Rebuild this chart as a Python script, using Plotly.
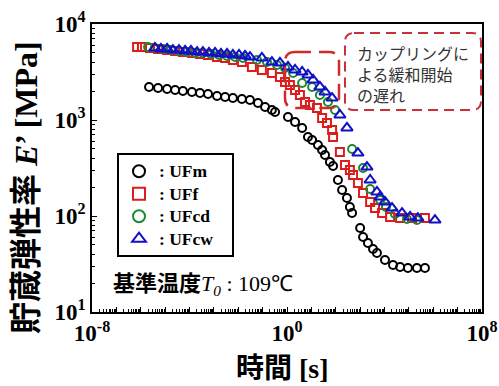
import plotly.graph_objects as go

# ---------------- data (log10 values) ----------------
# log10(time [s]) and log10(E' [MPa])
logt_UFm = [-5.66, -5.29, -4.92, -4.59, -4.27, -3.90, -3.57, -3.24, -2.87, -2.54, -2.22, -1.85,
            -1.52, -1.19, -0.90, -0.62, -0.49, 0.04, 0.33, 0.62, 0.86, 1.03, 1.27, 1.44, 1.56,
            1.76, 1.89, 2.09, 2.26, 2.46, 2.58, 2.67, 3.00, 3.12, 3.32, 3.53, 3.69, 4.02, 4.35,
            4.64, 4.96, 5.33, 5.66]
logE_UFm = [3.344, 3.333, 3.323, 3.313, 3.302, 3.292, 3.281, 3.271, 3.250, 3.240, 3.229, 3.219,
            3.208, 3.177, 3.135, 3.104, 3.083, 3.031, 2.979, 2.917, 2.823, 2.792, 2.740, 2.688,
            2.635, 2.563, 2.521, 2.375, 2.271, 2.188, 2.094, 2.031, 1.875, 1.781, 1.719, 1.656,
            1.615, 1.542, 1.490, 1.469, 1.458, 1.458, 1.458]

logt_UFf = [-6.15, -5.95, -5.62, -5.29, -4.92, -4.59, -4.27, -3.90, -3.57, -3.24, -2.87, -2.54,
            -2.22, -1.85, -1.44, -1.03, -0.62, -0.29, -0.08, 0.12, 0.33, 0.53, 0.74, 0.94, 1.23,
            1.44, 1.64, 1.85, 1.89, 2.17, 2.38, 2.58, 2.71, 2.91, 3.12, 3.41, 3.61, 3.90, 4.23,
            4.64, 5.13, 5.66]
logE_UFf = [3.760, 3.760, 3.750, 3.740, 3.729, 3.719, 3.708, 3.698, 3.688, 3.677, 3.656, 3.646,
            3.625, 3.604, 3.552, 3.521, 3.490, 3.448, 3.396, 3.365, 3.313, 3.260, 3.188, 3.156,
            3.125, 3.021, 2.969, 2.896, 2.823, 2.667, 2.531, 2.479, 2.427, 2.344, 2.240, 2.146,
            2.083, 2.031, 1.990, 1.979, 1.979, 1.979]

logt_UFcd = [-5.70, -5.42, -5.09, -4.76, -4.43, -4.10, -3.77, -3.45, -3.12, -2.79, -2.46, -2.13,
             -1.81, -1.23, -0.82, -0.41, -0.08, 0.25, 0.62, 1.03, 1.35, 1.68, 1.97, 2.67, 3.12,
             3.41, 3.82, 4.06, 4.43, 4.92, 5.33]
logE_UFcd = [3.760, 3.750, 3.740, 3.729, 3.719, 3.708, 3.698, 3.698, 3.688, 3.677, 3.667, 3.656,
             3.646, 3.625, 3.604, 3.573, 3.542, 3.490, 3.385, 3.344, 3.260, 3.188, 3.104, 2.698,
             2.500, 2.281, 2.167, 2.094, 2.021, 1.969, 1.958]

logt_UFcw = [-5.42, -5.17, -4.92, -4.68, -4.43, -4.18, -3.94, -3.69, -3.45, -3.20, -2.95, -2.71,
             -2.46, -2.22, -1.97, -1.72, -1.52, -1.03, -0.62, -0.29, 0.04, 0.33, 0.62, 0.86, 1.07,
             1.35, 1.56, 1.85, 2.17, 2.46, 2.91, 3.28, 3.41, 3.69, 3.82, 4.02, 4.31, 4.72, 5.05,
             5.37, 6.07]
logE_UFcw = [3.750, 3.740, 3.740, 3.729, 3.729, 3.719, 3.719, 3.708, 3.708, 3.698, 3.698, 3.688,
             3.688, 3.677, 3.677, 3.667, 3.656, 3.646, 3.604, 3.594, 3.552, 3.521, 3.500, 3.469,
             3.417, 3.344, 3.292, 3.229, 3.052, 2.917, 2.656, 2.510, 2.375, 2.250, 2.198, 2.146,
             2.083, 2.031, 1.990, 1.979, 1.958]

series_names = ["UFm", "UFf", "UFcd", "UFcw"]
x_tick_exponents = list(range(-8, 9))
x_labeled_exponents = [-8, 0, 8]
y_tick_exponents = [1, 2, 3, 4]

# ---------------- layout helpers ----------------
W, H = 499, 386
ML, MR, MT, MB = 92, 17, 24, 74
PW, PH = W - ML - MR, H - MT - MB


def pxx(x):
    return (x - ML) / PW


def pxy(y):
    return (H - MB - y) / PH


def rrect_path(x0, y0, x1, y1, r):
    def P(x, y):
        return f"{pxx(x):.5f},{pxy(y):.5f}"
    return (f"M {P(x0 + r, y0)} L {P(x1 - r, y0)} Q {P(x1, y0)} {P(x1, y0 + r)} "
            f"L {P(x1, y1 - r)} Q {P(x1, y1)} {P(x1 - r, y1)} L {P(x0 + r, y1)} "
            f"Q {P(x0, y1)} {P(x0, y1 - r)} L {P(x0, y0 + r)} Q {P(x0, y0)} {P(x0 + r, y0)} Z")


fig = go.Figure()

styles = [
    dict(symbol="circle-open", color="#000000", size=8),
    dict(symbol="square-open", color="#dd1c1c", size=8),
    dict(symbol="circle-open", color="#1e8a2e", size=8),
    dict(symbol="triangle-up-open", color="#1010c8", size=10),
]
data = [(logt_UFm, logE_UFm), (logt_UFf, logE_UFf), (logt_UFcd, logE_UFcd), (logt_UFcw, logE_UFcw)]

for (lt, le), name, st in zip(data, series_names, styles):
    fig.add_trace(go.Scatter(
        x=[10 ** v for v in lt], y=[10 ** v for v in le], mode="markers",
        name=f"<span style='font-size:17.5px'>: {name}&nbsp;&nbsp;&nbsp;</span>",
        marker=dict(symbol=st["symbol"], size=st["size"], color=st["color"],
                    line=dict(width=2, color=st["color"])),
    ))

tickfont = dict(family="Liberation Serif", size=23, color="black")
xt_vals = [10.0 ** k for k in x_tick_exponents]
xt_text = [f"<b>10<sup>{k}</sup></b>" if k in x_labeled_exponents else "" for k in x_tick_exponents]
x_minor = [m * 10.0 ** k for k in x_tick_exponents[:-1] for m in range(2, 10)]
yt_vals = [10.0 ** k for k in y_tick_exponents]
yt_text = [f"<b>10<sup>{k}</sup></b>" for k in y_tick_exponents]
y_minor = [m * 10.0 ** k for k in y_tick_exponents[:-1] for m in range(2, 10)]

fig.update_xaxes(type="log", range=[-8, 8], showgrid=False, zeroline=False, automargin=False,
                 showline=True, linecolor="black", linewidth=1.5, mirror=True,
                 ticks="inside", ticklen=5, tickcolor="black", tickwidth=1,
                 tickmode="array", tickvals=xt_vals, ticktext=xt_text, tickfont=tickfont,
                 minor=dict(tickmode="array", tickvals=x_minor, ticks="inside", ticklen=3,
                            tickcolor="black", tickwidth=1, showgrid=False))
fig.update_yaxes(type="log", range=[1, 4], showgrid=False, zeroline=False, automargin=False,
                 showline=True, linecolor="black", linewidth=1.5, mirror=True,
                 ticks="inside", ticklen=5, tickcolor="black", tickwidth=1,
                 tickmode="array", tickvals=yt_vals, ticktext=yt_text, tickfont=tickfont,
                 minor=dict(tickmode="array", tickvals=y_minor, ticks="inside", ticklen=3,
                            tickcolor="black", tickwidth=1, showgrid=False))

CJK = "Noto Sans CJK JP"
annotations = [
    # y-axis title
    dict(x=pxx(23), y=pxy(188), xref="paper", yref="paper", textangle=-90, showarrow=False,
         xanchor="center", yanchor="middle",
         text=f"<b><span style='font-family:{CJK}'>貯蔵弾性率</span> <i>E</i>’ [MPa]</b>",
         font=dict(family="Liberation Serif", size=32, color="black")),
    # x-axis title
    dict(x=pxx(282), y=pxy(366), xref="paper", yref="paper", showarrow=False,
         xanchor="center", yanchor="middle",
         text=f"<b><span style='font-family:{CJK}'>時間</span> [s]</b>",
         font=dict(family="Liberation Serif", size=28, color="black")),
    # reference temperature
    dict(x=pxx(111), y=pxy(282), xref="paper", yref="paper", showarrow=False,
         xanchor="left", yanchor="middle",
         text=f"<span style='font-family:{CJK}'><b>基準温度</b></span><i>T</i><sub><i>0</i></sub> : 109℃",
         font=dict(family="Liberation Serif", size=22, color="black")),
    # callout
    dict(x=pxx(355), y=pxy(74), xref="paper", yref="paper", showarrow=False,
         xanchor="left", yanchor="middle",
         align="left", text="カップリングに<br>よる緩和開始<br>の遅れ",
         font=dict(family=CJK, size=16, color="#333333")),
]

shapes = [
    dict(type="path", xref="paper", yref="paper", path=rrect_path(345, 33, 481, 110, 9),
         line=dict(color="#c8303a", width=2, dash="10px,6px")),
    dict(type="path", xref="paper", yref="paper", path=rrect_path(285, 52, 339, 108, 10),
         line=dict(color="#d02a2a", width=2.5, dash="16px,8px")),
]

fig.update_layout(
    width=W, height=H, margin=dict(l=ML, r=MR, t=MT, b=MB, autoexpand=False),
    paper_bgcolor="white", plot_bgcolor="white",
    showlegend=True,
    legend=dict(x=pxx(117), y=pxy(153), xanchor="left", yanchor="top",
                bordercolor="black", borderwidth=2, bgcolor="white",
                font=dict(family="Liberation Serif", size=15, color="black", weight="bold"),
                itemsizing="constant", tracegroupgap=0),
    annotations=annotations, shapes=shapes,
)

fig.write_html("out.html")
